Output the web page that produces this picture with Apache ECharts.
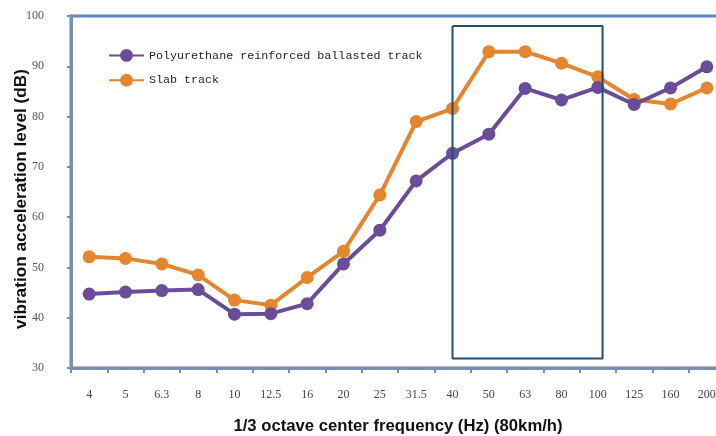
<!DOCTYPE html>
<html><head><meta charset="utf-8">
<script src="https://cdn.jsdelivr.net/npm/echarts@6/dist/echarts.min.js"></script>
<style>html,body{margin:0;padding:0;background:#fff}#c{width:716px;height:436px}</style>
</head><body><div id="c"></div>
<script>
var categories = ['4','5','6.3','8','10','12.5','16','20','25','31.5','40','50','63','80','100','125','160','200'];
var polyurethane = [44.7,45.1,45.4,45.6,40.7,40.8,42.8,50.7,57.4,67.2,72.7,76.5,85.6,83.3,85.8,82.4,85.7,89.9];
var slab = [52.1,51.8,50.7,48.5,43.5,42.5,48.0,53.2,64.4,79.0,81.6,92.9,92.9,90.6,87.9,83.4,82.5,85.7];
var yTicks = [30,40,50,60,70,80,90,100];
// highlight box corners: [category index position, dB]
var boxX = [10, 14.13];
var boxY = [31.9, 98];

var chart = echarts.init(document.getElementById('c'));
var serif = '"Liberation Serif", "DejaVu Serif", serif';
chart.setOption({
  animation: false,
  grid: {left: 71, top: 16, width: 654, bottom: 68, show: true, borderColor: '#5a87c3', borderWidth: 3, backgroundColor: '#fff', outerBoundsMode: 'none', containLabel: false},
  legend: {
    orient: 'vertical', left: 103, top: 44, itemGap: 12, itemWidth: 35, itemHeight: 16,
    textStyle: {fontFamily: '"Liberation Mono", "DejaVu Sans Mono", monospace', fontSize: 11.7, color: '#222'},
    data: ['Polyurethane reinforced ballasted track', 'Slab track']
  },
  xAxis: [{
    type: 'category', data: categories, boundaryGap: true,
    axisLine: {lineStyle: {color: '#7a8fb0', width: 3}},
    axisTick: {show: true, length: 5, lineStyle: {color: '#7a8fb0', width: 2}},
    axisLabel: {fontFamily: serif, fontSize: 12, color: '#444', margin: 21},
    name: '1/3 octave center frequency (Hz) (80km/h)', nameLocation: 'middle', nameGap: 50, nameMoveOverlap: false,
    nameTextStyle: {fontFamily: '"Liberation Sans", Arial, sans-serif', fontWeight: 'bold', fontSize: 16.7, color: '#111'}
  }, {
    type: 'value', min: -0.5, max: 17.5, show: false
  }],
  yAxis: {
    type: 'value', min: yTicks[0], max: yTicks[yTicks.length - 1], interval: 10,
    splitLine: {show: false},
    axisLine: {show: true, onZero: false, lineStyle: {color: '#7a8fb0', width: 3}},
    axisTick: {show: true, length: 4, lineStyle: {color: '#7a8fb0', width: 2}},
    axisLabel: {fontFamily: serif, fontSize: 12, color: '#555', margin: 27},
    name: 'vibration acceleration level (dB)', nameLocation: 'middle', nameGap: 41, nameMoveOverlap: false,
    nameTextStyle: {fontFamily: '"Liberation Sans", Arial, sans-serif', fontWeight: 'bold', fontSize: 17.2, color: '#111', padding: [0, 14, 0, 0]}
  },
  series: [{
    name: 'Polyurethane reinforced ballasted track', type: 'line', data: polyurethane,
    symbol: 'circle', symbolSize: 13, color: '#6a4c98',
    lineStyle: {width: 4, color: '#6a4c98'}, itemStyle: {color: '#6a4c98'}, z: 3
  }, {
    name: 'Slab track', type: 'line', data: slab,
    symbol: 'circle', symbolSize: 13, color: '#e5852f',
    lineStyle: {width: 4, color: '#e5852f'}, itemStyle: {color: '#e5852f'}, z: 2
  }, {
    name: 'box', type: 'line', xAxisIndex: 1, symbol: 'none', silent: true,
    data: [[boxX[0], boxY[1]], [boxX[1], boxY[1]], [boxX[1], boxY[0]], [boxX[0], boxY[0]], [boxX[0], boxY[1]]],
    lineStyle: {width: 2, color: '#1f4f72'}, z: 4
  }]
});
</script></body></html>
